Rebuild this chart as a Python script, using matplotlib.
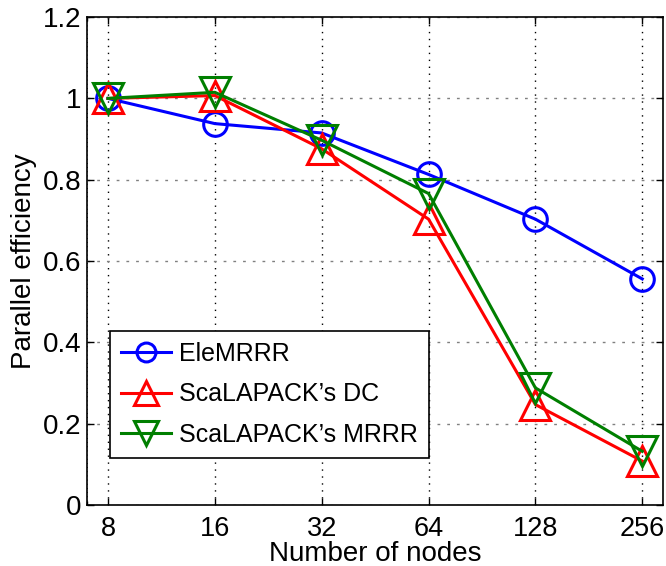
import numpy as np
from matplotlib import pyplot as plt
from matplotlib.ticker import FixedLocator, NullFormatter

plt.rcParams['font.family'] = ['Liberation Sans', 'DejaVu Sans']

nodes = [8, 16, 32, 64, 128, 256]
node_labels = ['8', '16', '32', '64', '128', '256']
ele_mrrr = [1.0, 0.938, 0.915, 0.813, 0.703, 0.556]
scal_dc = [1.0, 1.007, 0.876, 0.703, 0.247, 0.108]
scal_mrrr = [1.0, 1.015, 0.897, 0.766, 0.288, 0.132]
yticks = [0, 0.2, 0.4, 0.6, 0.8, 1.0, 1.2]
ytick_labels = ['0', '0.2', '0.4', '0.6', '0.8', '1', '1.2']

fig = plt.figure(figsize=(6.66, 5.66), dpi=100)
ax = fig.add_axes([0.1306, 0.1078, 0.865, 0.862])

lw = 2.2
ax.plot(nodes, ele_mrrr, '-o', color='#0000ff', lw=lw, ms=17, mfc='none',
        mew=lw, label='EleMRRR', zorder=3)
ax.plot(nodes, scal_dc, '-^', color='#ff0000', lw=lw, ms=21, mfc='none',
        mew=lw, label="ScaLAPACK\u2019s DC", zorder=3)
ax.plot(nodes, scal_mrrr, '-v', color='#007f00', lw=lw, ms=21, mfc='none',
        mew=lw, label="ScaLAPACK\u2019s MRRR", zorder=3)

ax.set_xscale('log', base=2)
ax.set_xlim(6.98, 293)
ax.set_ylim(0, 1.2)
ax.xaxis.set_major_locator(FixedLocator(nodes))
ax.set_xticklabels(node_labels)
ax.xaxis.set_minor_locator(FixedLocator([7]))
ax.xaxis.set_minor_formatter(NullFormatter())
ax.set_yticks(yticks)
ax.set_yticklabels(ytick_labels)
ax.yaxis.set_minor_locator(FixedLocator([]))

ax.tick_params(which='both', direction='in', labelsize=20, length=5, width=1, pad=4,
               top=True, right=True)
ax.tick_params(axis='x', which='major', labelsize=19.5, pad=8)
ax.tick_params(axis='x', which='minor', length=3)
ax.grid(axis='x', which='major', ls=(0, (1, 4)), color='black', lw=1)
ax.grid(axis='x', which='minor', ls=(0, (1, 4)), color='black', lw=0.6)
ax.grid(axis='y', ls=(0, (2, 5)), color='0.5', lw=1)
for s in ax.spines.values():
    s.set_linewidth(1.2)

ax.set_xlabel('Number of nodes', fontsize=20, labelpad=-1)
ax.set_ylabel('Parallel efficiency', fontsize=20, labelpad=4)

leg = ax.legend(loc='upper left', bbox_to_anchor=(0.04, 0.357), borderaxespad=0,
                fontsize=18, frameon=True, fancybox=False, handlelength=2.0,
                handletextpad=0.3, labelspacing=0.65, borderpad=0.45, markerscale=0.8)
leg.get_frame().set_edgecolor('black')
leg.get_frame().set_linewidth(1.2)
leg.get_frame().set_alpha(1)

fig.savefig('out.png', dpi=100)
